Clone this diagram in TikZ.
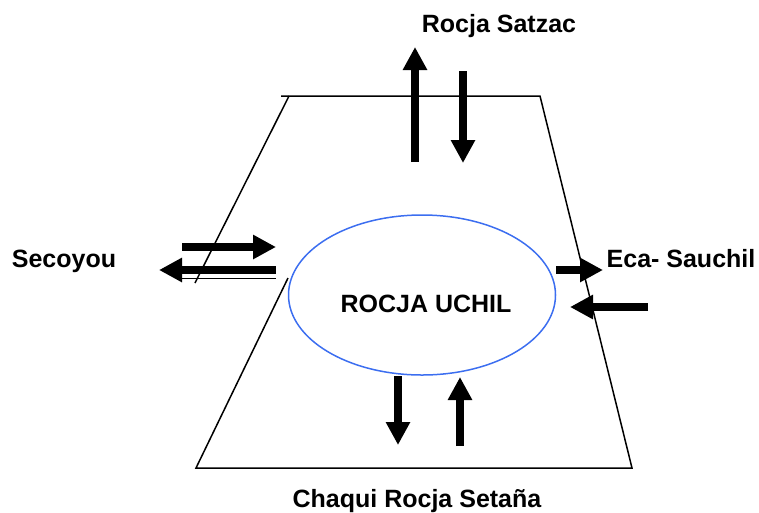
\documentclass[tikz,border=0pt]{standalone}
\usepackage{fontspec}
\setmainfont{Liberation Sans}
\usetikzlibrary{arrows.meta,shapes.geometric}
\definecolor{ovalblue}{RGB}{60,110,240}
\begin{document}
\begin{tikzpicture}[x=1pt,y=-1pt,
                txt/.style = {font=\fontsize{25}{28}\selectfont\bfseries, anchor=base, inner sep=0pt},
                flow/.style = {line width=7.5pt, -{Triangle[length=23pt,width=23pt]}},
                edge/.style = {line width=1.5pt}
                ]
                \useasboundingbox (0,0) rectangle (759,512);
                % the zone and the oval
                \draw[edge] (281,96) -- (540,96) -- (632,468) -- (196,468) -- (288,278);
                \draw[edge] (289,96) -- (195,283);
                \node[ellipse, draw=ovalblue, line width=1.5pt, minimum width=267, minimum height=160] (uchil) at (422,295) {};
                \node[txt] (uchiltxt) at (426,312) {ROCJA UCHIL};
                % the names round it
                \node[txt] (satzac) at (499,32) {Rocja Satzac};
                \node[txt] (secoyou) at (64,267) {Secoyou};
                \node[txt] (sauchil) at (681,267) {Eca- Sauchil};
                \node[txt] (setana) at (417,507) {Chaqui Rocja Setaña};
                % top
                \coordinate (t1) at (415,162);
                \coordinate (t2) at (415,47);
                \coordinate (t3) at (463,71);
                \coordinate (t4) at (463,163);
                \draw[flow] (t1) -- (t2);
                \draw[flow] (t3) -- (t4);
                % left
                \coordinate (l1) at (182,247);
                \coordinate (l2) at (276,247);
                \coordinate (l3) at (276,270);
                \coordinate (l4) at (159,270);
                \draw[flow] (l1) -- (l2);
                \draw[flow] (l3) -- (l4);
                \draw[line width=1pt] (182,278) -- (276,278);
                % right
                \coordinate (r1) at (556,270);
                \coordinate (r2) at (603,270);
                \coordinate (r3) at (648,307);
                \coordinate (r4) at (570,307);
                \draw[flow] (r1) -- (r2);
                \draw[flow] (r3) -- (r4);
                % bottom
                \coordinate (b1) at (398,376);
                \coordinate (b2) at (398,445);
                \coordinate (b3) at (460,446);
                \coordinate (b4) at (460,377);
                \draw[flow] (b1) -- (b2);
                \draw[flow] (b3) -- (b4);
            \end{tikzpicture}
\end{document}
